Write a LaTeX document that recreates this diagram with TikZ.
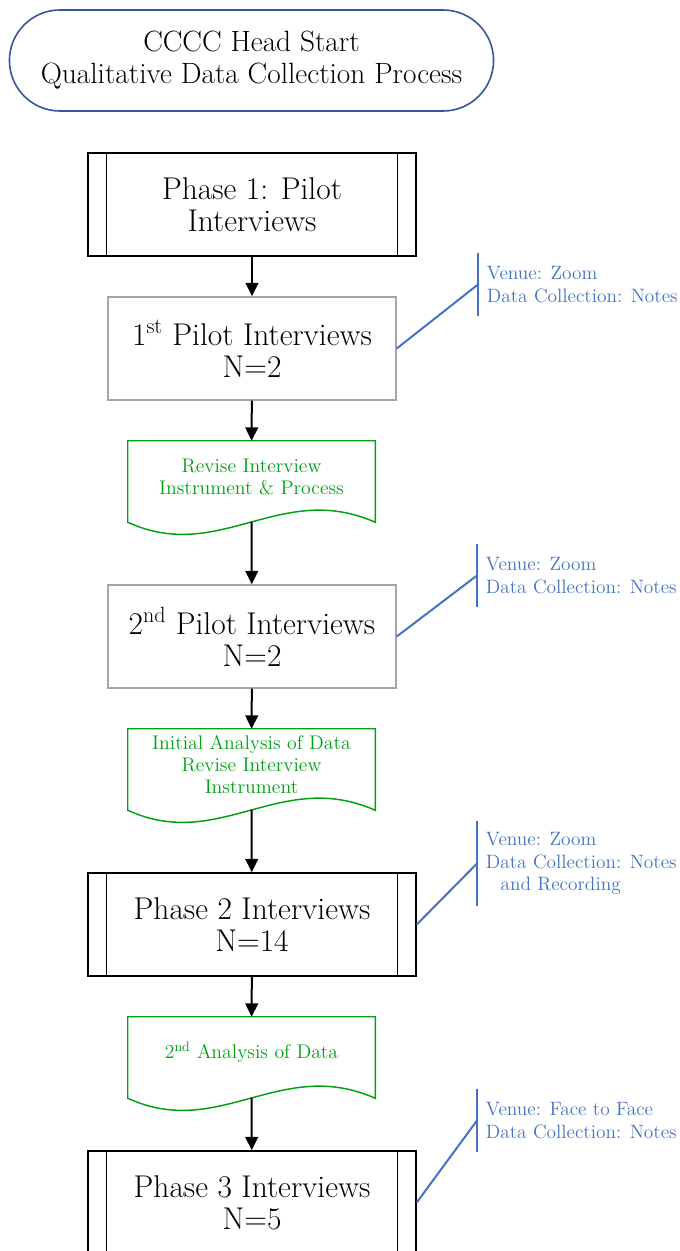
\documentclass[tikz,border=0pt]{standalone}
\usepackage{fontspec}
\usepackage{tikz}
\usetikzlibrary{shapes.misc}
\usetikzlibrary{arrows.meta}

\definecolor{titleblue}{RGB}{55,85,155}
\definecolor{noteblue}{RGB}{68,114,196}
\definecolor{docgreen}{RGB}{0,160,20}

\tikzset{
    terminal/.style={rounded rectangle, draw=titleblue, line width=1.2pt, minimum width=369.75pt, minimum height=75.75pt, align=center, font=\fontsize{22}{24}\selectfont},
    phasebox/.style={rectangle, draw=black, line width=1.1pt, minimum width=246pt, minimum height=77.25pt, align=center, font=\fontsize{23.6}{24}\selectfont},
    pilotbox/.style={rectangle, draw=black!35, line width=1.1pt, minimum width=216pt, minimum height=77.25pt, align=center, font=\fontsize{23.6}{24}\selectfont},
    docbox/.style={rectangle, minimum width=185.25pt, minimum height=53.25pt, inner sep=2pt, align=center, text=docgreen, font=\fontsize{14.8}{16.5}\selectfont},
    docline/.style={draw=docgreen, line width=1.1pt},
    note/.style={rectangle, anchor=west, align=left, inner xsep=6.5pt, inner ysep=8pt, minimum height=47.25pt, text=noteblue, font=\fontsize{14.5}{17}\selectfont},
    noteline/.style={draw=noteblue, line width=1.5pt},
    flow/.style={draw=black, line width=1.5pt, -{Triangle[width=9.5pt,length=10pt]}}
}

\begin{document}
\begin{tikzpicture}[x=0.75pt, y=-0.75pt]
            \useasboundingbox (0,0) rectangle (679,1251);
            \clip (0,0) rectangle (679,1251);
            \node[terminal] (title) at (251.5,60.5) {CCCC Head Start\\Qualitative Data Collection Process};
            \node[phasebox] (phaseA) at (252,204.5) {Phase 1: Pilot\\Interviews};
            \node[pilotbox] (pilotA) at (252,348.5) {1\textsuperscript{st} Pilot Interviews\\N=2};
            \node[docbox] (revA) at (251.5,476.5) {Revise Interview\\Instrument \& Process};
            \node[pilotbox] (pilotB) at (252,636.5) {2\textsuperscript{nd} Pilot Interviews\\N=2};
            \node[docbox] (revB) at (251.5,764.5) {Initial Analysis of Data\\Revise Interview\\Instrument};
            \node[phasebox] (phaseB) at (252,924.5) {Phase 2 Interviews\\N=14};
            \node[docbox] (revC) at (251.5,1052.5) {2\textsuperscript{nd} Analysis of Data};
            \node[phasebox] (phaseC) at (252,1202.5) {Phase 3 Interviews\\N=5};

            \foreach \p in {phaseA,phaseB,phaseC} {
                \draw[line width=1.1pt] ([xshift=14.25pt]\p.north west) -- ([xshift=14.25pt]\p.south west);
                \draw[line width=1.1pt] ([xshift=-14.25pt]\p.north east) -- ([xshift=-14.25pt]\p.south east);
            }
            \foreach \d in {revA,revB,revC} {
                \draw[docline] ([yshift=-7.5pt]\d.south west) -- (\d.north west) -- (\d.north east) -- ([yshift=-7.5pt]\d.south east)
                    .. controls +(-95,-42) and +(92,42) .. ([yshift=-7.5pt]\d.south west) -- cycle;
            }

            \draw[flow] (phaseA) -- (pilotA);
            \draw[flow] (pilotA) -- (revA);
            \draw[flow] ([yshift=-7pt]revA.south) -- (pilotB);
            \draw[flow] (pilotB) -- (revB);
            \draw[flow] ([yshift=-7pt]revB.south) -- (phaseB);
            \draw[flow] (phaseB) -- (revC);
            \draw[flow] ([yshift=-7pt]revC.south) -- (phaseC);

            \node[note] (noteA) at (478,284.5) {Venue: Zoom\\Data Collection: Notes};
            \node[note] (noteB) at (477,575.5) {Venue: Zoom\\Data Collection: Notes};
            \node[note] (noteC) at (477,863.5) {Venue: Zoom\\Data Collection: Notes\\\hspace*{11pt}and Recording};
            \node[note] (noteD) at (477,1120.5) {Venue: Face to Face\\Data Collection: Notes};
            \foreach \n/\b in {noteA/pilotA,noteB/pilotB,noteC/phaseB,noteD/phaseC} {
                \draw[noteline] (\n.north west) -- (\n.south west);
                \draw[noteline] (\b.east) -- (\n.west);
            }
        \end{tikzpicture}
\end{document}
